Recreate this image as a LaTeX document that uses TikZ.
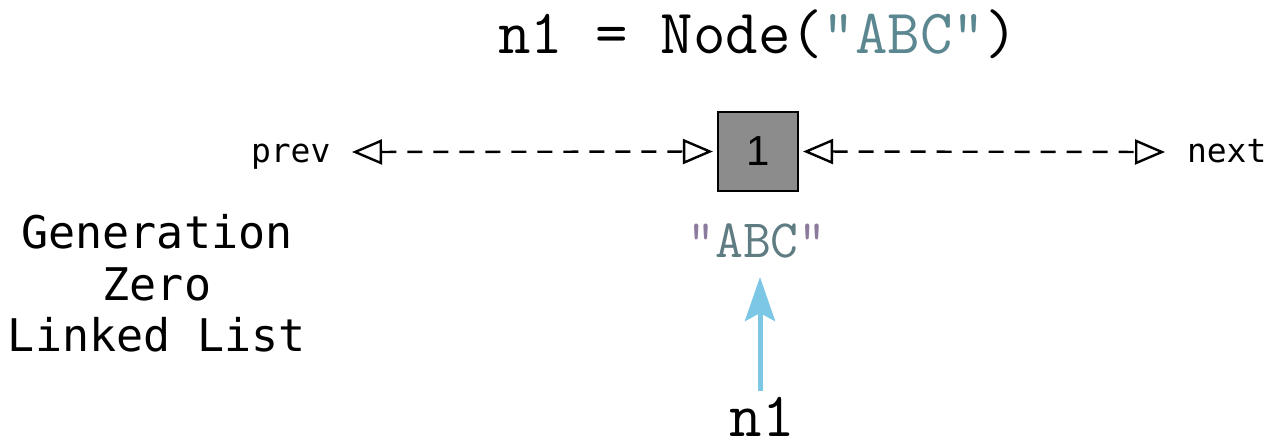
\documentclass[tikz,border=0pt]{standalone}
\usepackage{fontspec}
\newfontfamily\msans{DejaVu Sans Mono}
\newfontfamily\boxfont{Liberation Sans}
\usetikzlibrary{arrows.meta}
\definecolor{abcteal}{HTML}{5B8791}
\definecolor{abcgray}{HTML}{5E7C82}
\definecolor{quotepurple}{HTML}{8C7B9C}
\definecolor{boxgray}{HTML}{8C8C8C}
\definecolor{skyarrow}{HTML}{7CC6E6}
\tikzset{
  txt/.style={inner sep=0pt, outer sep=0pt, anchor=base},
  codefont/.style={font=\ttfamily\fontsize{63}{63}\selectfont},
  labfont/.style={font=\msans\fontsize{33}{33}\selectfont},
  genfont/.style={font=\msans\fontsize{45}{45}\selectfont},
  listnode/.style={draw=black, line width=2.2pt, fill=boxgray, minimum width=80pt, minimum height=79pt, inner sep=0pt, font=\boxfont\fontsize{42}{42}\selectfont},
  dasharrow/.style={line width=2.4pt, dash pattern=on 15pt off 11pt, {Triangle[open,length=30pt,width=25pt,line width=2.4pt]}-{Triangle[open,length=30pt,width=25pt,line width=2.4pt]}},
  ptrarrow/.style={line width=5pt, color=skyarrow, -{Stealth[length=44pt,width=30pt,inset=8pt]}},
}
\begin{document}
\begin{tikzpicture}[x=1pt,y=-1pt]
\useasboundingbox[fill=white] (0,0) rectangle (1266,444);
% title
\node[txt, codefont] (title) at (758,54) {n1 = Node(\textcolor{abcteal}{"ABC"})};
% node box
\node[listnode] (box) at (758,151.5) {1};
% labels
\node[txt, labfont, anchor=base west] (prev) at (251,162) {prev};
\node[txt, labfont, anchor=base west] (next) at (1187,162) {next};
\coordinate (prevtip) at (352,152);
\coordinate (nexttip) at (1165,152);
\draw[dasharrow, shorten >=4pt] (prevtip) -- (box.west);
\draw[dasharrow, shorten <=4pt] (box.east) -- (nexttip);
% generation zero
\node[txt, genfont] (gen) at (157,248) {Generation};
\node[txt, genfont] (zero) at (157,300) {Zero};
\node[txt, genfont] (ll) at (157,351) {Linked List};
% value
\node[txt, font=\ttfamily\fontsize{54}{54}\selectfont] (abc) at (757,257) {\textcolor{quotepurple}{"}\textcolor{abcgray}{ABC}\textcolor{quotepurple}{"}};
% pointer
\node[txt, codefont] (n1) at (762,436) {n1};
\coordinate (ptail) at (760,391);
\coordinate (ptip) at (760,277);
\draw[ptrarrow] (ptail) -- (ptip);
\end{tikzpicture}
\end{document}
